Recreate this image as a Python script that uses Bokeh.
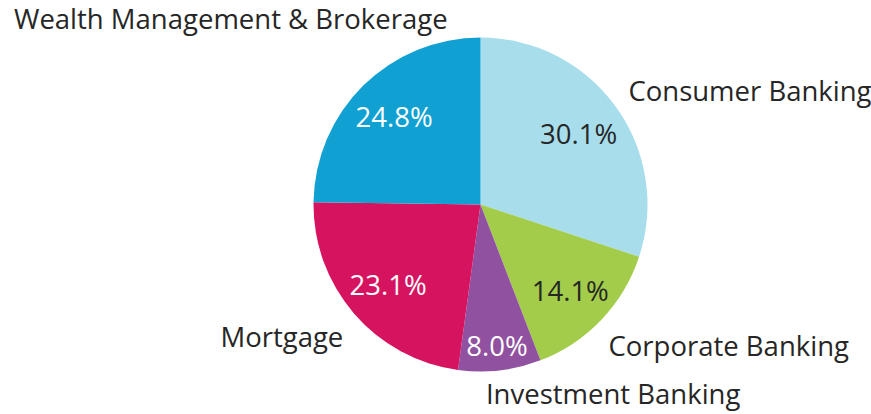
import numpy as np
from bokeh.plotting import figure
from bokeh.models import ColumnDataSource, Range1d
from bokeh.core.properties import value
from bokeh.embed import file_html
from bokeh.resources import INLINE

# ---- data ----
categories = ["Consumer Banking", "Corporate Banking", "Investment Banking",
              "Mortgage", "Wealth Management & Brokerage"]
shares = [30.1, 14.1, 8.0, 23.1, 24.8]
pct_labels = ["30.1%", "14.1%", "8.0%", "23.1%", "24.8%"]

# ---- style ----
colors = ["#A8DDEC", "#A2CC4A", "#9052A0", "#D6135F", "#11A0D2"]
pct_colors = ["#262626", "#262626", "#FFFFFF", "#FFFFFF", "#FFFFFF"]
FONT = "Open Sans"
FS = "27.5px"
W, H = 871, 414
CX, CY, R = 480, H - 204, 167      # pie centre / radius in pixel units
pct_r = [121, 124, 142, 122, 123]  # radial distance of inner labels
OUT_R = 185
out_align = ["left", "left", "left", "right", "right"]
# pixel nudges (x right, y up) from the polar anchor of each outer label
out_nudge = [(-2, 6), (-6, -13), (-16, -5), (3, -11), (97, 54)]

vals = np.array(shares, dtype=float)
frac = vals / vals.sum()
cum = np.concatenate([[0], np.cumsum(frac)])
start = np.pi / 2 - cum[1:] * 2 * np.pi
end = np.pi / 2 - cum[:-1] * 2 * np.pi
mid = (start + end) / 2

src = ColumnDataSource(dict(start=start, end=end, color=colors, cat=categories))

p = figure(width=W, height=H, output_backend="svg", toolbar_location=None,
           x_range=Range1d(0, W), y_range=Range1d(0, H),
           min_border=0, outline_line_color=None)
p.axis.visible = False
p.grid.visible = False
p.background_fill_color = "white"

p.wedge(x=CX, y=CY, radius=R, start_angle="start", end_angle="end",
        fill_color="color", line_color=None, source=src)

# inner percentage labels
px = [CX + r * np.cos(a) for r, a in zip(pct_r, mid)]
py = [CY + r * np.sin(a) for r, a in zip(pct_r, mid)]
p.text(x=px, y=py, text=pct_labels, text_color=pct_colors,
       text_font=value(FONT), text_font_size=FS,
       text_align="center", text_baseline="middle")

# outer category labels
for i, cat in enumerate(categories):
    ox = CX + OUT_R * np.cos(mid[i]) + out_nudge[i][0]
    oy = CY + OUT_R * np.sin(mid[i]) + out_nudge[i][1]
    p.text(x=[ox], y=[oy], text=[cat], text_color="#262626",
           text_font=value(FONT), text_font_size=FS,
           text_align=out_align[i], text_baseline="middle")

open("out.html", "w").write(file_html(p, INLINE))
